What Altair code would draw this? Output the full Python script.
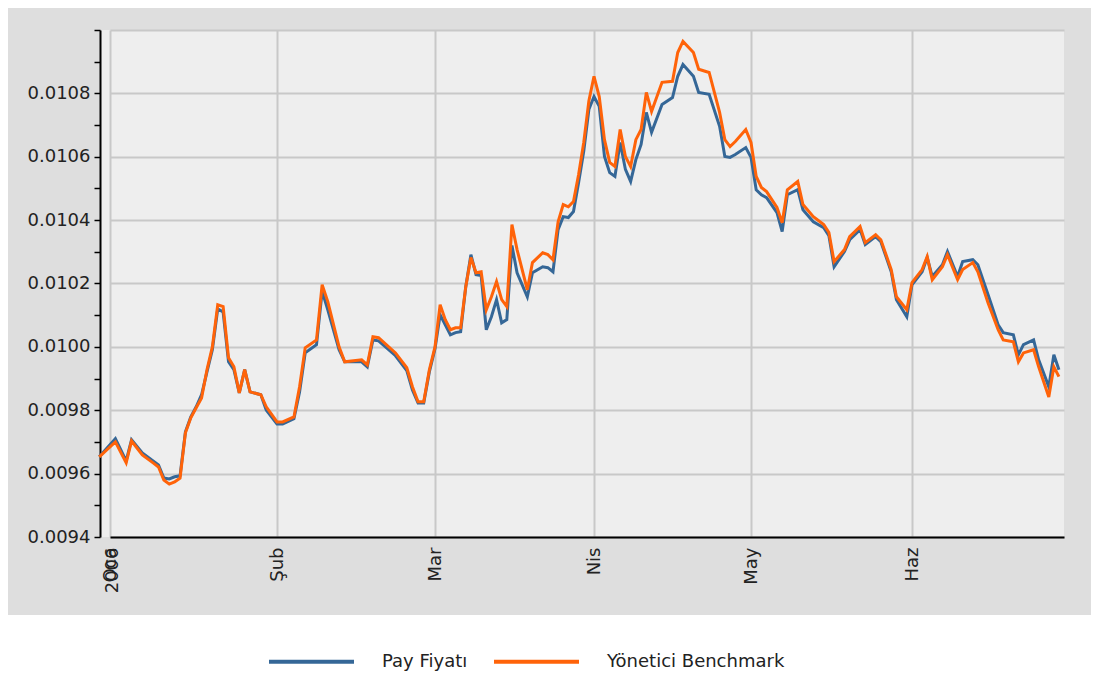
import altair as alt
import pandas as pd

# ---- data ----
dates = [
    "2005-12-30", "2006-01-02", "2006-01-04", "2006-01-05", "2006-01-07", "2006-01-09",
    "2006-01-10", "2006-01-11", "2006-01-12", "2006-01-13", "2006-01-14", "2006-01-15",
    "2006-01-16", "2006-01-17", "2006-01-18", "2006-01-19", "2006-01-20", "2006-01-21",
    "2006-01-22", "2006-01-23", "2006-01-24", "2006-01-25", "2006-01-26", "2006-01-27",
    "2006-01-29", "2006-01-30",
    "2006-02-01", "2006-02-02", "2006-02-04", "2006-02-05", "2006-02-06", "2006-02-08",
    "2006-02-09", "2006-02-10", "2006-02-12", "2006-02-13", "2006-02-16", "2006-02-17",
    "2006-02-18", "2006-02-19", "2006-02-22", "2006-02-24", "2006-02-25", "2006-02-26",
    "2006-02-27", "2006-02-28",
    "2006-03-01", "2006-03-02", "2006-03-03", "2006-03-04", "2006-03-05", "2006-03-06",
    "2006-03-07", "2006-03-08", "2006-03-09", "2006-03-10", "2006-03-11", "2006-03-12",
    "2006-03-13", "2006-03-14", "2006-03-15", "2006-03-16", "2006-03-17", "2006-03-19",
    "2006-03-20", "2006-03-22", "2006-03-23", "2006-03-24", "2006-03-25", "2006-03-26",
    "2006-03-27", "2006-03-28", "2006-03-29", "2006-03-30", "2006-03-31",
    "2006-04-01", "2006-04-02", "2006-04-03", "2006-04-04", "2006-04-05", "2006-04-06",
    "2006-04-07", "2006-04-08", "2006-04-09", "2006-04-10", "2006-04-11", "2006-04-12",
    "2006-04-14", "2006-04-16", "2006-04-17", "2006-04-18", "2006-04-20", "2006-04-21",
    "2006-04-23", "2006-04-25", "2006-04-26", "2006-04-27", "2006-04-28", "2006-04-30",
    "2006-05-01", "2006-05-02", "2006-05-03", "2006-05-04", "2006-05-06", "2006-05-07",
    "2006-05-08", "2006-05-10", "2006-05-11", "2006-05-13", "2006-05-15", "2006-05-16",
    "2006-05-17", "2006-05-19", "2006-05-20", "2006-05-22", "2006-05-23", "2006-05-25",
    "2006-05-26", "2006-05-28", "2006-05-29", "2006-05-31",
    "2006-06-01", "2006-06-03", "2006-06-04", "2006-06-05", "2006-06-07", "2006-06-08",
    "2006-06-10", "2006-06-11", "2006-06-13", "2006-06-14", "2006-06-16", "2006-06-18",
    "2006-06-19", "2006-06-21", "2006-06-22", "2006-06-23", "2006-06-25", "2006-06-26",
    "2006-06-28", "2006-06-29", "2006-06-30",
]

pay_fiyati = [
    0.009653, 0.009710, 0.009640, 0.009707, 0.009665, 0.009640,
    0.009627, 0.009586, 0.009583, 0.009590, 0.009593, 0.009732,
    0.009779, 0.009811, 0.009849, 0.009921, 0.009991, 0.010120,
    0.010110, 0.009953, 0.009928, 0.009855, 0.009928, 0.009858,
    0.009849, 0.009801,
    0.009757, 0.009757, 0.009773, 0.009858, 0.009981, 0.010007,
    0.010175, 0.010117, 0.009991, 0.009953, 0.009953, 0.009937,
    0.010022, 0.010019, 0.009972, 0.009925, 0.009864, 0.009823,
    0.009823, 0.009921,
    0.009994, 0.010101, 0.010070, 0.010038, 0.010045, 0.010048,
    0.010190, 0.010291, 0.010228, 0.010225, 0.010054, 0.010095,
    0.010149, 0.010076, 0.010086, 0.010320, 0.010234, 0.010158,
    0.010234, 0.010253, 0.010250, 0.010237, 0.010370, 0.010411,
    0.010408, 0.010427, 0.010519, 0.010617, 0.010749,
    0.010790, 0.010759, 0.010601, 0.010550, 0.010538, 0.010645,
    0.010560, 0.010522, 0.010591, 0.010639, 0.010740, 0.010677,
    0.010765, 0.010787, 0.010854, 0.010891, 0.010854, 0.010803,
    0.010797, 0.010696, 0.010601, 0.010598, 0.010607, 0.010629,
    0.010598, 0.010496, 0.010480, 0.010471, 0.010424, 0.010364,
    0.010480, 0.010496, 0.010433, 0.010395, 0.010376, 0.010351,
    0.010253, 0.010301, 0.010338, 0.010370, 0.010323, 0.010348,
    0.010332, 0.010237, 0.010149, 0.010095,
    0.010196, 0.010237, 0.010282, 0.010222, 0.010259, 0.010301,
    0.010222, 0.010269, 0.010275, 0.010259, 0.010165, 0.010070,
    0.010045, 0.010038, 0.009975, 0.010007, 0.010022, 0.009959,
    0.009874, 0.009975, 0.009928,
]

yonetici_benchmark = [
    0.009653, 0.009700, 0.009634, 0.009703, 0.009659, 0.009634,
    0.009621, 0.009580, 0.009567, 0.009574, 0.009586, 0.009729,
    0.009776, 0.009808, 0.009839, 0.009928, 0.010000, 0.010133,
    0.010127, 0.009966, 0.009937, 0.009855, 0.009928, 0.009858,
    0.009849, 0.009811,
    0.009763, 0.009763, 0.009779, 0.009874, 0.009997, 0.010022,
    0.010196, 0.010143, 0.010000, 0.009953, 0.009959, 0.009943,
    0.010032, 0.010029, 0.009981, 0.009934, 0.009874, 0.009827,
    0.009827, 0.009928,
    0.010000, 0.010133, 0.010086, 0.010054, 0.010060, 0.010060,
    0.010190, 0.010282, 0.010234, 0.010237, 0.010117, 0.010158,
    0.010206, 0.010149, 0.010127, 0.010386, 0.010307, 0.010180,
    0.010266, 0.010297, 0.010291, 0.010275, 0.010395, 0.010449,
    0.010442, 0.010459, 0.010544, 0.010645, 0.010776,
    0.010854, 0.010790, 0.010654, 0.010582, 0.010569, 0.010686,
    0.010601, 0.010569, 0.010654, 0.010686, 0.010803, 0.010743,
    0.010835, 0.010838, 0.010929, 0.010964, 0.010929, 0.010876,
    0.010866, 0.010740, 0.010654, 0.010632, 0.010648, 0.010686,
    0.010645, 0.010538, 0.010503, 0.010490, 0.010440, 0.010392,
    0.010496, 0.010522, 0.010449, 0.010411, 0.010386, 0.010361,
    0.010269, 0.010307, 0.010348, 0.010380, 0.010329, 0.010354,
    0.010338, 0.010244, 0.010158, 0.010117,
    0.010203, 0.010244, 0.010285, 0.010212, 0.010253, 0.010291,
    0.010212, 0.010244, 0.010266, 0.010237, 0.010139, 0.010054,
    0.010022, 0.010016, 0.009953, 0.009981, 0.009991, 0.009937,
    0.009842, 0.009937, 0.009906,
]

series_names = ["Pay Fiyatı", "Yönetici Benchmark"]
series_colors = ["#356797", "#ff6309"]
month_labels = ["Oca", "Şub", "Mar", "Nis", "May", "Haz", "Tem"]
month_starts = ["2006-01-01", "2006-02-01", "2006-03-01", "2006-04-01",
                "2006-05-01", "2006-06-01", "2006-07-01"]
year_label = "2006"

assert len(dates) == len(pay_fiyati) == len(yonetici_benchmark)

origin = pd.Timestamp(month_starts[0])
day_no = [(pd.Timestamp(d) - origin).days for d in dates]
month_day_no = [(pd.Timestamp(d) - origin).days for d in month_starts]

df = pd.DataFrame({
    "Gün": day_no,
    "Tarih": dates,
    series_names[0]: pay_fiyati,
    series_names[1]: yonetici_benchmark,
})
long_df = df.melt(["Gün", "Tarih"], var_name="Seri", value_name="Değer")

FONT = "DejaVu Sans"
W, H = 964, 507

# the reference's month columns are not equally wide: piecewise month scale
month_px = [10, 177, 335, 494, 651, 812, 964]
y_values = [round(0.0094 + i * 0.0001, 4) for i in range(17)]

month_js = "[" + ",".join(f"'{m}'" for m in month_labels) + "]"
mday_js = "[" + ",".join(str(v) for v in month_day_no) + "]"
x_label_expr = (
    f"datum.value == 0 ? ['{month_labels[0]}', '{year_label}'] : "
    f"{month_js}[indexof({mday_js}, datum.value)]"
)
y_label_expr = (
    "(round(datum.value * 10000) % 2 == 0 && datum.value < 0.01095) "
    "? format(datum.value, '.4f') : ''"
)

lines = alt.Chart(long_df).mark_line(strokeWidth=3, interpolate="linear").encode(
    x=alt.X(
        "Gün:Q",
        title=None,
        scale=alt.Scale(domain=month_day_no, range=month_px, nice=False, zero=False),
        axis=alt.Axis(
            values=month_day_no[:-1],
            labelExpr=x_label_expr,
            labelAngle=270,
            labelLineHeight=2,
            labelFont=FONT,
            labelFontSize=18,
            labelColor="#222222",
            labelPadding=10,
            ticks=False,
            domainColor="#000000",
            domainWidth=2,
            grid=True,
            gridColor="#c8c8c8",
            gridWidth=2,
        ),
    ),
    y=alt.Y(
        "Değer:Q",
        title=None,
        scale=alt.Scale(domain=[0.0094, 0.0110], nice=False, zero=False),
        axis=alt.Axis(
            values=y_values,
            labelExpr=y_label_expr,
            labelFont=FONT,
            labelFontSize=18,
            labelColor="#222222",
            labelPadding=4,
            tickColor="#000000",
            tickSize=6,
            tickWidth=1.5,
            domainColor="#000000",
            domainWidth=2,
            grid=True,
            gridColor="#c8c8c8",
            gridWidth=2,
            gridOpacity={
                "condition": {"test": "round(datum.value * 10000) % 2 == 0", "value": 1},
                "value": 0,
            },
        ),
    ),
    color=alt.Color(
        "Seri:N",
        scale=alt.Scale(domain=series_names, range=series_colors),
        legend=alt.Legend(
            title=None,
            orient="none",
            legendX=167,
            legendY=587,
            direction="horizontal",
            symbolType="stroke",
            symbolSize=7225,
            symbolStrokeWidth=4,
            labelFont=FONT,
            labelFontSize=18,
            labelColor="#222222",
            labelOffset=26,
            labelLimit=400,
            columnPadding=18,
        ),
    ),
    tooltip=["Tarih:N", "Seri:N", "Değer:Q"],
)

# white strip under the grey panel (where the legend sits)
strip = alt.Chart(pd.DataFrame({"k": [0]})).mark_rect(color="#ffffff").encode(
    x=alt.value(-100), x2=alt.value(W + 60), y=alt.value(H + 78), y2=alt.value(H + 200)
)

chart = alt.layer(strip, lines).properties(
    width=W,
    height=H,
    padding={"left": 92, "top": 22, "right": 27, "bottom": 134},
    autosize=alt.AutoSizeParams(type="none"),
    background="#dedede",
).configure_view(fill="#eeeeee", stroke=None)

chart.save("out.html", embed_options={"renderer": "svg", "actions": False})
